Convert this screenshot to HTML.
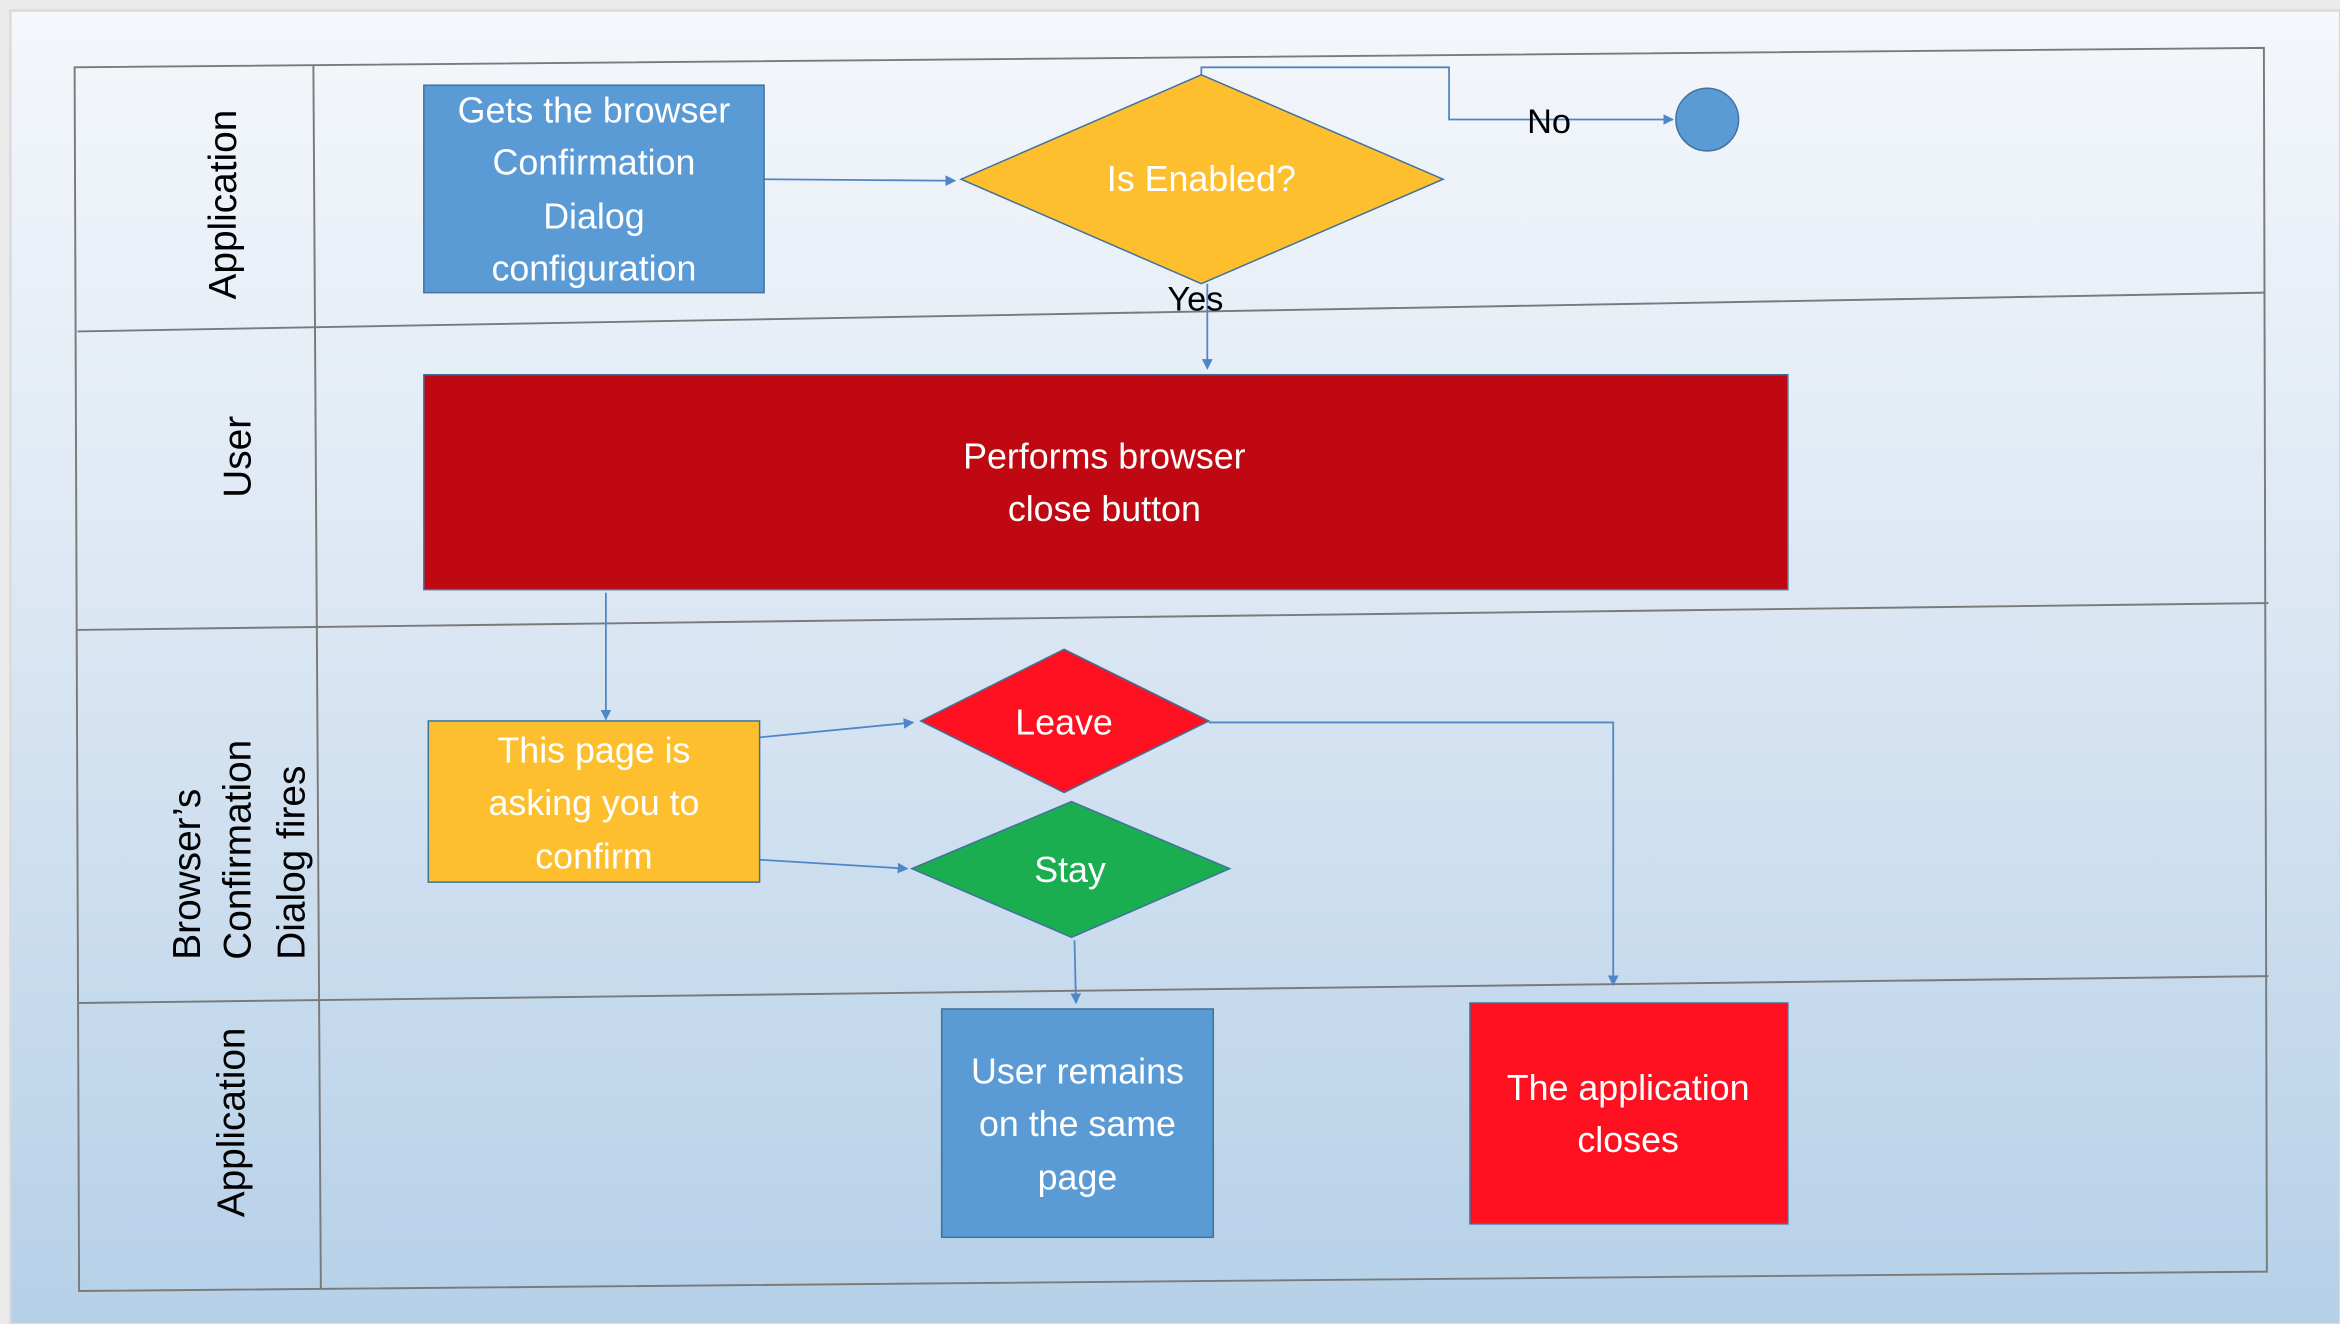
<!DOCTYPE html>
<html><head><meta charset="utf-8"><style>
html,body{margin:0;padding:0;background:#ececec;}
svg{display:block;}
text{font-family:"Liberation Sans",sans-serif;}
</style></head><body>
<svg width="2340" height="1324" viewBox="0 0 1568 887" xmlns="http://www.w3.org/2000/svg">
<defs>
<linearGradient id="bg" x1="0" y1="0" x2="0" y2="1">
<stop offset="0" stop-color="#f4f7fb"/>
<stop offset="0.4" stop-color="#dfe9f4"/>
<stop offset="1" stop-color="#b5d0e8"/>
</linearGradient>
<marker id="ar" viewBox="0 0 10 10" refX="9" refY="5" markerWidth="6" markerHeight="6" orient="auto"><path d="M0,0 L10,5 L0,10 z" fill="#4f87c6"/></marker>
</defs>
<rect x="0" y="0" width="1568" height="887" fill="#ebebeb"/>
<rect x="7" y="7" width="1561" height="880" fill="url(#bg)" stroke="#d8d8d8" stroke-width="1.5"/>
<g stroke="#7a7a7a" stroke-width="1.3" fill="none">
<path d="M50,45 L1517,32 L1519,852 L53,865 Z"/>
<path d="M210,44 L215,864"/>
<path d="M52,222 L1518,196"/>
<path d="M52,422 L1520,404"/>
<path d="M53,672 L1520,654"/>
</g>
<g font-size="26" fill="#000">
<text transform="translate(158,137) rotate(-90)" text-anchor="middle">Application</text>
<text transform="translate(168,306) rotate(-90)" text-anchor="middle">User</text>
<text transform="translate(134,643) rotate(-90)" text-anchor="start">Browser’s</text>
<text transform="translate(168,643) rotate(-90)" text-anchor="start">Confirmation</text>
<text transform="translate(204,643) rotate(-90)" text-anchor="start">Dialog fires</text>
<text transform="translate(164,752) rotate(-90)" text-anchor="middle">Application</text>
</g>
<g stroke="#4f87c6" stroke-width="1.2" fill="none">
<path d="M512,120 L640,121" marker-end="url(#ar)"/>
<path d="M805,50 L805,45 L971,45 L971,80 L1121,80" marker-end="url(#ar)"/>
<path d="M809,190 L809,247" marker-end="url(#ar)"/>
<path d="M406,397 L406,482" marker-end="url(#ar)"/>
<path d="M509,494 L612,484" marker-end="url(#ar)"/>
<path d="M509,576 L608,582" marker-end="url(#ar)"/>
<path d="M810,484 L1081,484 L1081,660" marker-end="url(#ar)"/>
<path d="M720,630 L721,672" marker-end="url(#ar)"/>
</g>
<rect x="284" y="57" width="228" height="139" fill="#5b9bd5" stroke="#41719c"/>
<polygon points="805,50 967,120 805,190 644,120" fill="#fdbf2d" stroke="#41719c"/>
<circle cx="1144" cy="80" r="21" fill="#5b9bd5" stroke="#41719c"/>
<rect x="284" y="251" width="914" height="144" fill="#c00812" stroke="#41719c"/>
<rect x="287" y="483" width="222" height="108" fill="#fdbf2d" stroke="#41719c"/>
<polygon points="713,435 810,483 713,531 617,483" fill="#fe1020" stroke="#41719c"/>
<polygon points="718,537 824,582 718,628 611,582" fill="#1aae51" stroke="#41719c"/>
<rect x="631" y="676" width="182" height="153" fill="#5b9bd5" stroke="#41719c"/>
<rect x="985" y="672" width="213" height="148" fill="#fe1020" stroke="#41719c"/>
<g font-size="24" fill="#fff" text-anchor="middle">
<text x="398" y="82">Gets the browser</text>
<text x="398" y="117">Confirmation</text>
<text x="398" y="153">Dialog</text>
<text x="398" y="188">configuration</text>
<text x="805" y="128">Is Enabled?</text>
<text x="740" y="314">Performs browser</text>
<text x="740" y="349">close button</text>
<text x="398" y="511">This page is</text>
<text x="398" y="546">asking you to</text>
<text x="398" y="582">confirm</text>
<text x="713" y="492">Leave</text>
<text x="717" y="591">Stay</text>
<text x="722" y="726">User remains</text>
<text x="722" y="761">on the same</text>
<text x="722" y="797">page</text>
<text x="1091" y="737">The application</text>
<text x="1091" y="772">closes</text>
</g>
<g font-size="23" fill="#000" text-anchor="middle">
<text x="1038" y="89">No</text>
<text x="801" y="208">Yes</text>
</g>
</svg>
</body></html>
